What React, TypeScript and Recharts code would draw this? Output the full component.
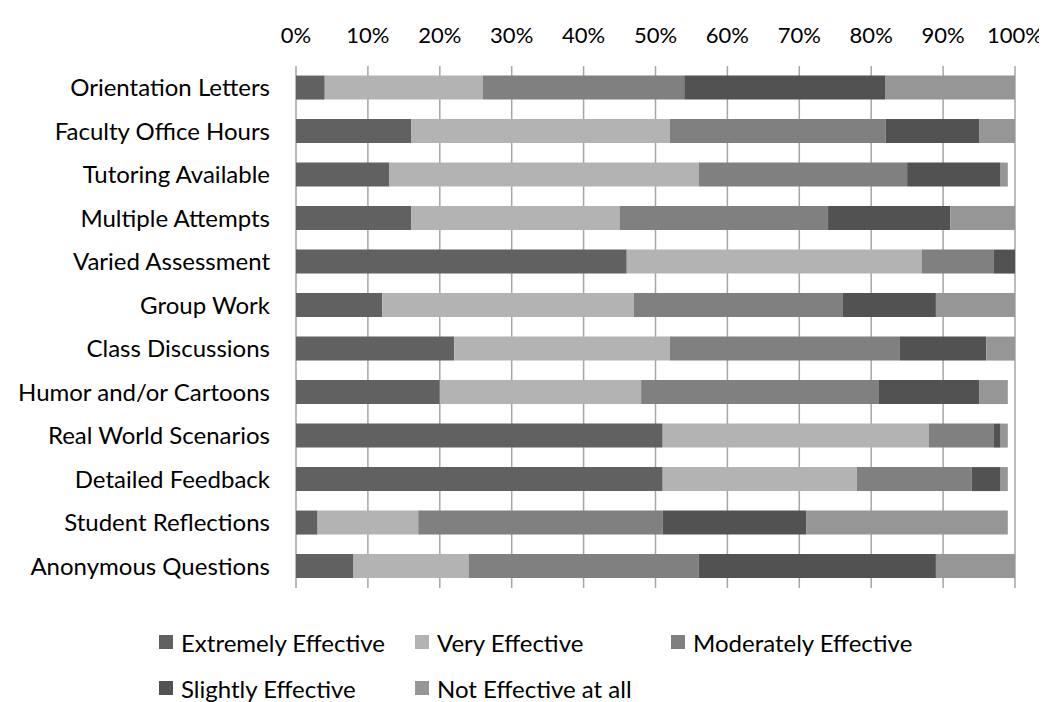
import React from 'react';
import { BarChart, Bar, XAxis, YAxis, CartesianGrid } from 'recharts';

const categories = [
    'Orientation Letters',
    'Faculty Office Hours',
    'Tutoring Available',
    'Multiple Attempts',
    'Varied Assessment',
    'Group Work',
    'Class Discussions',
    'Humor and/or Cartoons',
    'Real World Scenarios',
    'Detailed Feedback',
    'Student Reflections',
    'Anonymous Questions',
];

const extremely = [4, 16, 13, 16, 46, 12, 22, 20, 51, 51, 3, 8];
const very = [22, 36, 43, 29, 41, 35, 30, 28, 37, 27, 14, 16];
const moderately = [28, 30, 29, 29, 10, 29, 32, 33, 9, 16, 34, 32];
const slightly = [28, 13, 13, 17, 3, 13, 12, 14, 1, 4, 20, 33];
const notAtAll = [18, 5, 1, 9, 0, 11, 4, 4, 1, 1, 28, 11];

const xTicks = [0, 10, 20, 30, 40, 50, 60, 70, 80, 90, 100];

const series = [
    { key: 'extremely', name: 'Extremely Effective', color: '#616161' },
    { key: 'very', name: 'Very Effective', color: '#b3b3b3' },
    { key: 'moderately', name: 'Moderately Effective', color: '#808080' },
    { key: 'slightly', name: 'Slightly Effective', color: '#525252' },
    { key: 'notAtAll', name: 'Not Effective at all', color: '#969696' },
];

const data = categories.map((name, i) => ({
    name,
    extremely: extremely[i],
    very: very[i],
    moderately: moderately[i],
    slightly: slightly[i],
    notAtAll: notAtAll[i],
}));

const FONT = 'Lato, "Open Sans", sans-serif';

// legend laid out like the original: three columns, wraps to a second row
const legendCols = [151, 407, 663];

const App: React.FC = () => {
    return (
        <div style={{ position: 'relative', width: 1039, height: 694, fontFamily: FONT }}>
            <BarChart
                width={1039}
                height={590}
                data={data}
                layout="vertical"
                barCategoryGap="22%"
                margin={{ top: 0, right: 32, left: 0, bottom: 10 }}
            >
                <CartesianGrid horizontal={false} stroke="#a6a6a6" strokeWidth={1.5} />
                <XAxis
                    type="number"
                    orientation="top"
                    domain={[0, 100]}
                    ticks={xTicks}
                    tickFormatter={(v) => `${v}%`}
                    axisLine={false}
                    tickLine={false}
                    tickMargin={17}
                    height={58}
                    tick={{ fontSize: 22, fill: '#000', fontFamily: FONT }}
                />
                <YAxis
                    type="category"
                    dataKey="name"
                    width={288}
                    axisLine={false}
                    tickLine={false}
                    tickMargin={20}
                    interval={0}
                    tick={{ fontSize: 24, fill: '#000', fontFamily: FONT }}
                />
                {series.map((s) => (
                    <Bar
                        key={s.key}
                        dataKey={s.key}
                        name={s.name}
                        stackId="a"
                        fill={s.color}
                        isAnimationActive={false}
                    />
                ))}
            </BarChart>
            {series.map((s, i) => (
                <div
                    key={s.key}
                    style={{
                        position: 'absolute',
                        left: legendCols[i % 3],
                        top: i < 3 ? 620 : 666,
                        height: 28,
                        display: 'flex',
                        alignItems: 'center',
                        fontSize: 24,
                        color: '#000',
                        whiteSpace: 'nowrap',
                    }}
                >
                    <span style={{ display: 'inline-block', width: 14, height: 14, background: s.color, marginRight: 8 }} />
                    {s.name}
                </div>
            ))}
        </div>
    );
};

export default App;
